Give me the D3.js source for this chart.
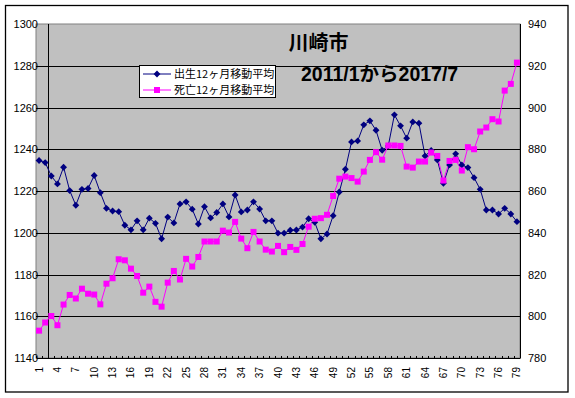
<!DOCTYPE html>
<html><head><meta charset="utf-8">
<script src="https://cdn.jsdelivr.net/npm/d3@7"></script>
<style>body{margin:0;background:#fff}svg{display:block}</style>
</head><body><svg id="c" width="575" height="398"></svg>
<script>
const months = d3.range(1, 80);
const tickLabels = d3.range(1, 80, 3);
const births = [1234.6,1233.6,1227.2,1223.4,1231.4,1220.2,1213.2,1220.8,1221.2,1227.4,
1219.2,1211.7,1210.4,1210.1,1203.6,1201.4,1205.7,1201.4,1207,1204.5,
1197.1,1207.5,1204.7,1213.8,1214.8,1211.3,1204.2,1212.5,1207.1,1209.7,
1213.8,1207.6,1218.1,1210,1210.9,1214.8,1211.4,1205.7,1205.7,1199.8,
1199.8,1201.2,1201.3,1202.7,1206.7,1205,1197.1,1199.4,1208.2,1219.5,
1230.4,1243.5,1244,1251.7,1253.6,1249.1,1239.5,1241.6,1256.5,1251.2,
1245.3,1253.1,1252.5,1236.8,1239.4,1234.9,1223.7,1232.5,1237.8,1232.5,
1231.2,1226.4,1220.8,1210.9,1210.9,1209,1211.7,1209,1205.3];
const deaths = [793.1,797,800.1,795.7,805.6,810.2,808.5,813.2,810.8,810.4,
805.7,815.6,818.2,827.3,826.8,822.8,819.3,811.3,814.2,806.9,
804.6,816.1,821.7,817.6,827.5,823.8,828.4,835.8,835.8,835.8,
841,840.1,845.2,837.2,832.6,840.4,835.8,831.9,831,833.7,
830.7,833.2,831.8,834.6,842.9,846.7,847,848.6,857.6,865.9,
866.9,866.2,864.5,869.3,874.9,878.6,875,881.8,881.8,881.6,
871.7,871.2,874.1,874.1,878.4,876.8,865,874.4,874.9,869.8,
881,880,888.5,890.4,894.4,893.3,908.1,911.3,921.5];
const leftTicks = d3.range(1140, 1301, 20);
const rightTicks = d3.range(780, 941, 20);
const seriesNames = ["出生12ヶ月移動平均", "死亡12ヶ月移動平均"];
const title = "川崎市";
const subtitle = "2011/1から2017/7";

const svg = d3.select("#c");
const font = "Arial, 'Liberation Sans', sans-serif";
const jfont = "'Noto Sans CJK JP', sans-serif";
const L = 36, R = 520, T = 24, B = 358;

svg.append("rect").attr("x",5.5).attr("y",5.5).attr("width",562.5).attr("height",386.5)
  .attr("fill","#fff").attr("stroke","#000").attr("stroke-width",1.3);

const x = d3.scaleBand().domain(months).range([L, R]).paddingInner(0).paddingOuter(0);
const xc = d => x(d) + x.bandwidth()/2;
const yL = d3.scaleLinear().domain([1140, 1300]).range([B, T]);
const yR = d3.scaleLinear().domain([780, 940]).range([B, T]);

svg.append("rect").attr("x",L).attr("y",T).attr("width",R-L).attr("height",B-T)
  .attr("fill","#C0C0C0").attr("stroke","#808080").attr("stroke-width",1);

svg.append("g").selectAll("line").data(leftTicks.slice(1,-1)).join("line")
  .attr("x1",L).attr("x2",R).attr("y1",d=>Math.round(yL(d))+0.5).attr("y2",d=>Math.round(yL(d))+0.5)
  .attr("stroke","#000").attr("stroke-width",1);

svg.append("line").attr("x1",R+0.5).attr("x2",R+0.5).attr("y1",T).attr("y2",B).attr("stroke","#000");
svg.append("line").attr("x1",Math.round(x(3))+0.5).attr("x2",Math.round(x(3))+0.5).attr("y1",T).attr("y2",B).attr("stroke","#000");

const xAxis = d3.axisBottom(x).tickValues(months).tickSize(0).tickFormat("");
const gx = svg.append("g").attr("transform",`translate(0,${B})`).call(xAxis);
gx.select(".domain").attr("stroke","#000");
svg.append("g").selectAll("line").data(months).join("line")
  .attr("x1",d=>Math.round(x(d))+0.5).attr("x2",d=>Math.round(x(d))+0.5)
  .attr("y1",B-2).attr("y2",B).attr("stroke","#000");
svg.append("g").selectAll("text").data(tickLabels).join("text")
  .attr("transform",d=>`translate(${xc(d)+3.5},${B+9}) rotate(-90)`)
  .attr("text-anchor","end").attr("font-family",font).attr("font-size",10).attr("fill","#000")
  .text(d=>d);

const gl = svg.append("g").attr("transform",`translate(${L},0)`)
  .call(d3.axisLeft(yL).tickValues(leftTicks).tickSize(0).tickPadding(-2).tickFormat(d3.format("d")));
gl.select(".domain").remove();
gl.selectAll("text").attr("font-family",font).attr("font-size",11).attr("fill","#000");
const gr = svg.append("g").attr("transform",`translate(${R},0)`)
  .call(d3.axisRight(yR).tickValues(rightTicks).tickSize(0).tickPadding(8).tickFormat(d3.format("d")));
gr.select(".domain").remove();
gr.selectAll("text").attr("font-family",font).attr("font-size",11).attr("fill","#000");

const lineB = d3.line().x((d,i)=>xc(months[i])).y(d=>yL(d));
const lineD = d3.line().x((d,i)=>xc(months[i])).y(d=>yR(d));
svg.append("path").attr("d",lineB(births)).attr("fill","none").attr("stroke","#000080").attr("stroke-width",1);
svg.append("path").attr("d",lineD(deaths)).attr("fill","none").attr("stroke","#FF00FF").attr("stroke-width",1);
const diamond = d3.symbol().type(d3.symbolDiamond2).size(30);
svg.append("g").selectAll("path").data(births).join("path")
  .attr("transform",(d,i)=>`translate(${xc(months[i])},${yL(d)})`).attr("d",diamond).attr("fill","#000080");
svg.append("g").selectAll("rect").data(deaths).join("rect")
  .attr("x",(d,i)=>xc(months[i])-3).attr("y",d=>yR(d)-3).attr("width",6).attr("height",6).attr("fill","#FF00FF");

const lg = svg.append("g");
lg.append("rect").attr("x",139.5).attr("y",65.5).attr("width",136).attr("height",32)
  .attr("fill","#fff").attr("stroke","#000");
const lc = ["#000080","#FF00FF"];
seriesNames.forEach((n,i)=>{
  const yy = 74 + i*16;
  lg.append("line").attr("x1",143).attr("x2",171).attr("y1",yy).attr("y2",yy).attr("stroke",lc[i]);
  if(i===0) lg.append("path").attr("transform",`translate(157,${yy})`).attr("d",diamond).attr("fill",lc[i]);
  else lg.append("rect").attr("x",154).attr("y",yy-3).attr("width",6).attr("height",6).attr("fill",lc[i]);
  lg.append("text").attr("x",174).attr("y",yy+4).attr("font-family",jfont).attr("font-size",11).attr("fill","#000").text(n);
});

svg.append("text").attr("x",318.5).attr("y",50).attr("text-anchor","middle").attr("font-family",jfont)
  .attr("font-weight","bold").attr("font-size",20).attr("fill","#000").text(title);
svg.append("text").attr("x",301).attr("y",81).attr("font-family","'Liberation Sans', 'Noto Sans CJK JP', sans-serif")
  .attr("font-weight","bold").attr("font-size",19.5).attr("fill","#000").text(subtitle);
</script></body></html>
